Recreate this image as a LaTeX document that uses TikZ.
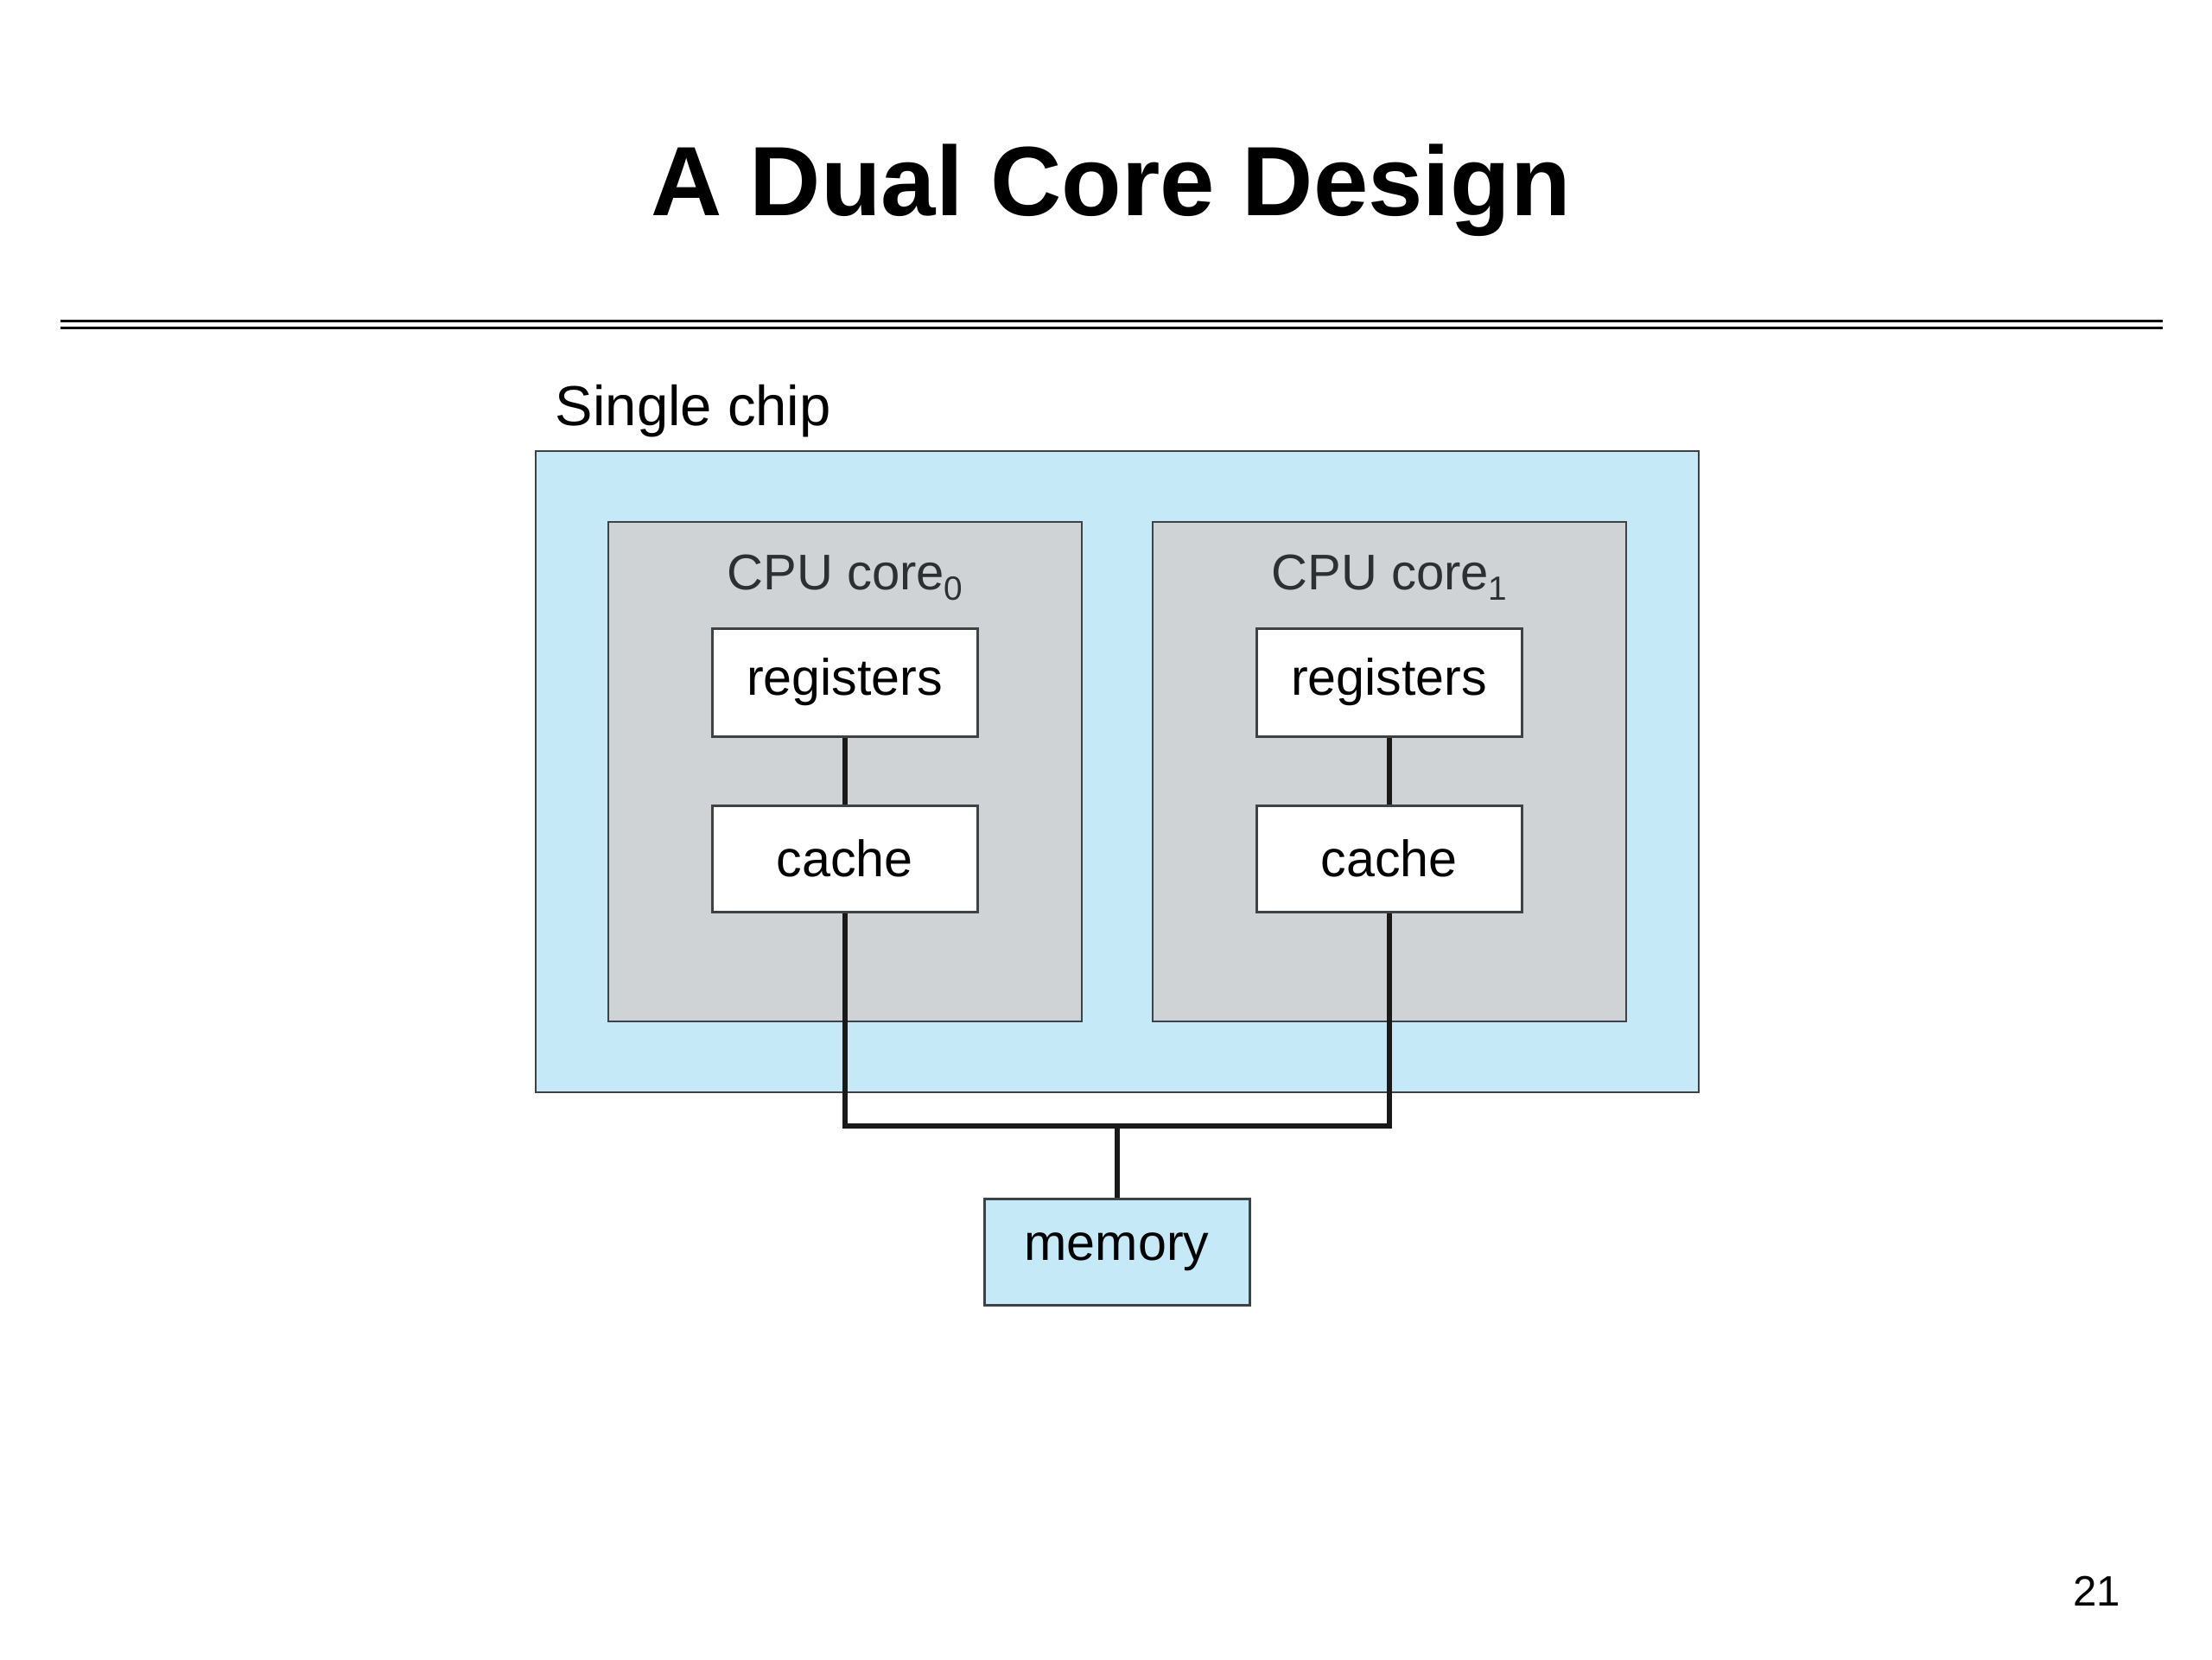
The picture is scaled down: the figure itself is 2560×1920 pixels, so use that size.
\documentclass[tikz,border=0pt]{standalone}
\usepackage{fontspec}
\setmainfont{Liberation Sans}
\usepackage{xcolor}
\usepackage{tikz}
\definecolor{chipblue}{RGB}{198,233,248}
\definecolor{coregray}{RGB}{208,211,214}
\definecolor{edgegray}{RGB}{60,66,70}
\definecolor{labelgray}{RGB}{45,48,50}
\newcommand{\coresub}[1]{\raisebox{-3.15pt}{\fontsize{9.7}{11}\selectfont #1}}
\tikzset{
  unit/.style={rectangle, draw=edgegray, line width=0.75pt, inner sep=0pt, minimum width=76.75pt, minimum height=30.75pt, font=\fontsize{14.8}{17}\selectfont},
  wire/.style={line width=1.5pt, black!90},
}
\begin{document}
\begin{tikzpicture}[x=0.25pt, y=-0.25pt]
\useasboundingbox (0,0) rectangle (2560,1920);
\fill[white] (0,0) rectangle (2560,1920);
\node[anchor=base, font=\fontsize{28.5}{34}\selectfont\bfseries] (title) at (1286,249) {A Dual Core Design};
\node[inner sep=0pt] (ruleL) at (70,376) {};
\node[inner sep=0pt] (ruleR) at (2503,376) {};
\draw[line width=0.85pt] ([yshift=1.1pt]ruleL.center) -- ([yshift=1.1pt]ruleR.center);
\draw[line width=0.85pt] ([yshift=-0.9pt]ruleL.center) -- ([yshift=-0.9pt]ruleR.center);
\node[anchor=base west, inner sep=0pt, font=\fontsize{16.3}{20}\selectfont] (chiplabel) at (642,492) {Single chip};
\node[rectangle, draw=edgegray, line width=0.7pt, fill=chipblue, minimum width=336.5pt, minimum height=185.5pt] (chip) at (1293,893) {};
\node[rectangle, draw=edgegray, line width=0.7pt, fill=coregray, minimum width=137pt, minimum height=144.5pt] (coreA) at (978,893) {};
\node[rectangle, draw=edgegray, line width=0.7pt, fill=coregray, minimum width=137pt, minimum height=144.5pt] (coreB) at (1608,893) {};
\node[anchor=base, text=labelgray, font=\fontsize{14.5}{17}\selectfont] (coreAlabel) at (978,682) {CPU core\coresub{0}};
\node[anchor=base, text=labelgray, font=\fontsize{14.5}{17}\selectfont] (coreBlabel) at (1608,682) {CPU core\coresub{1}};
\node[unit, fill=white, minimum height=31.25pt] (regA) at (977.5,789.5) {registers};
\node[unit, fill=white] (cacheA) at (977.5,993.5) {cache};
\node[unit, fill=white, minimum height=31.25pt] (regB) at (1607.5,789.5) {registers};
\node[unit, fill=white] (cacheB) at (1607.5,993.5) {cache};
\node[unit, fill=chipblue] (memory) at (1292.5,1448.5) {memory};
\coordinate (bus) at (1292.5,1303);
\draw[wire] (regA) -- (cacheA);
\draw[wire] (regB) -- (cacheB);
\draw[wire] (cacheA.south) |- (bus) -| (cacheB.south);
\draw[wire] (bus) -- (memory.north);
\node[anchor=base east, inner sep=0pt, font=\fontsize{12.3}{15}\selectfont] (pageno) at (2455,1858) {21};
\end{tikzpicture}
\end{document}
